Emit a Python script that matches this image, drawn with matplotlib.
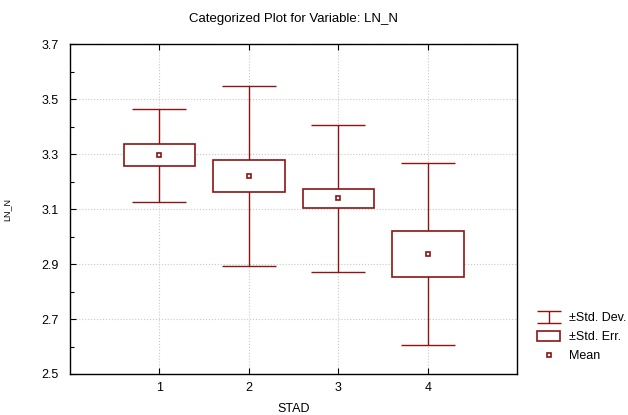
import matplotlib.pyplot as plt
from matplotlib.patches import Patch
from matplotlib.lines import Line2D
from matplotlib.path import Path
from matplotlib.ticker import MultipleLocator

plt.rcParams['font.family'] = ['Liberation Sans', 'DejaVu Sans']

# STAD groups and LN_N summary stats
stad = [1, 2, 3, 4]
means = [3.295, 3.219, 3.139, 2.937]
sds = [0.168, 0.327, 0.267, 0.332]
ses = [0.040, 0.058, 0.034, 0.083]

red = '#8b1414'

fig = plt.figure(figsize=(6.28, 4.15), dpi=100)
ax = fig.add_axes([0.1115, 0.0988, 0.712, 0.795])

# +-SD whiskers
ax.errorbar(stad, means, yerr=sds, fmt='none', ecolor=red, elinewidth=1,
            capsize=19.5, capthick=1, zorder=2)
# +-SE boxes
ax.bar(stad, [2 * s for s in ses], bottom=[m - s for m, s in zip(means, ses)],
       width=0.8, color='white', edgecolor=red, linewidth=1.2, zorder=3)
# means
ax.plot(stad, means, 's', ms=3.5, mfc='white', mec=red, mew=1.2, zorder=4)

ax.set_xlim(0, 5)
ax.set_ylim(2.5, 3.7)
ax.set_xticks(stad)
ax.set_yticks([2.5, 2.7, 2.9, 3.1, 3.3, 3.5, 3.7])
ax.yaxis.set_minor_locator(MultipleLocator(0.1))
ax.tick_params(direction='in', top=True, labelsize=9, length=4, width=0.8)
ax.tick_params(axis='x', pad=6)
ax.tick_params(axis='y', pad=8)
ax.tick_params(axis='y', which='minor', direction='in', length=3, width=0.8)
ax.grid(True, linestyle=':', color='#c8c8c8', linewidth=0.8)
ax.set_axisbelow(True)
for s in ax.spines.values():
    s.set_linewidth(1)

ax.set_title('Categorized Plot for Variable: LN_N', fontsize=9.5, pad=16)
ax.set_xlabel('STAD', fontsize=9, labelpad=6)
ax.set_ylabel('LN_N', fontsize=6.5, labelpad=22)

# legend symbol for the whiskers: cap / stem / cap
sd_path = Path([(-1, 0.55), (1, 0.55), (0, 0.55), (0, -0.55), (-1, -0.55), (1, -0.55)],
               [Path.MOVETO, Path.LINETO, Path.MOVETO, Path.LINETO, Path.MOVETO, Path.LINETO])
handles = [
    Line2D([], [], ls='none', marker=sd_path, ms=17, mec=red, mew=1, mfc='none'),
    Patch(facecolor='white', edgecolor=red, linewidth=1.2),
    Line2D([], [], marker='s', ls='none', ms=3.5, mfc='white', mec=red, mew=1.2),
]
ax.legend(handles, ['±Std. Dev.', '±Std. Err.', 'Mean'],
          loc='lower left', bbox_to_anchor=(1.045, 0.035), frameon=False,
          borderpad=0, borderaxespad=0,
          fontsize=9, handlelength=1.85, handleheight=0.8, handletextpad=0.65,
          labelspacing=0.55)

fig.savefig('out.png', dpi=100)
